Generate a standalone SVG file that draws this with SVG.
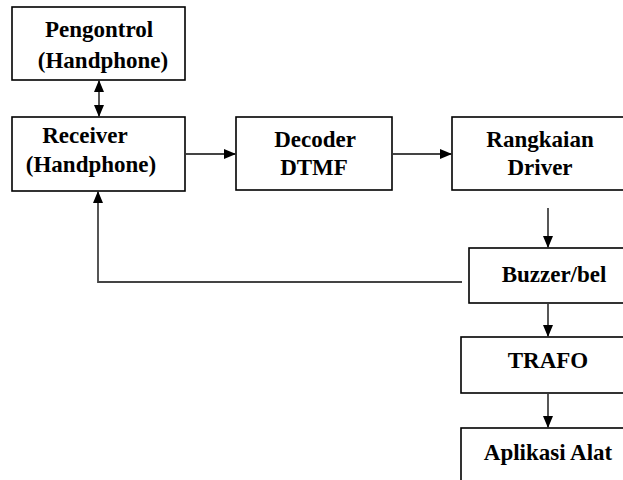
<svg xmlns="http://www.w3.org/2000/svg" width="623" height="480" viewBox="0 0 623 480">
<style>
.box{fill:#fff;stroke:#000;stroke-width:1.6}
.t{font-family:'Liberation Serif','DejaVu Serif',serif;font-weight:700;font-size:23px;fill:#000;text-anchor:middle}
.c{fill:none;stroke:#444;stroke-width:1.8}
</style>
<defs>
<marker id="ah" markerUnits="userSpaceOnUse" markerWidth="12" markerHeight="10" refX="11" refY="5" orient="auto-start-reverse" viewBox="0 0 12 10">
<path d="M0,0 L12,5 L0,10 Z" fill="#000"/>
</marker>
</defs>
<rect width="623" height="480" fill="#fff"/>
<g id="connectors">
<line class="c" x1="99" y1="81" x2="99" y2="116" marker-start="url(#ah)" marker-end="url(#ah)"/>
<line class="c" x1="186" y1="154" x2="235" y2="154" stroke="#777" marker-end="url(#ah)"/>
<line class="c" x1="393" y1="154" x2="451" y2="154" stroke="#777" marker-end="url(#ah)"/>
<line class="c" x1="548" y1="208" x2="548" y2="247" marker-end="url(#ah)"/>
<line class="c" x1="548" y1="304" x2="548" y2="336" marker-end="url(#ah)"/>
<line class="c" x1="548" y1="394" x2="548" y2="427" marker-end="url(#ah)"/>
<polyline class="c" points="462,282 98,282 98,192" marker-end="url(#ah)"/>
</g>
<g id="pengontrol">
<rect class="box" x="12" y="7" width="173" height="73"/>
<text class="t" x="99" y="37">Pengontrol</text>
<text class="t" x="103" y="68">(Handphone)</text>
</g>
<g id="receiver">
<rect class="box" x="12" y="117" width="173" height="74"/>
<text class="t" x="85" y="143">Receiver</text>
<text class="t" x="91" y="172">(Handphone)</text>
</g>
<g id="decoder">
<rect class="box" x="236" y="117" width="156" height="73"/>
<text class="t" x="315" y="147">Decoder</text>
<text class="t" x="314" y="175">DTMF</text>
</g>
<g id="driver">
<rect class="box" x="452" y="117" width="180" height="73"/>
<text class="t" x="540" y="147">Rangkaian</text>
<text class="t" x="540" y="175">Driver</text>
</g>
<g id="buzzer">
<rect class="box" x="469" y="248" width="170" height="55"/>
<text class="t" x="554" y="282">Buzzer/bel</text>
</g>
<g id="trafo">
<rect class="box" x="461" y="337" width="175" height="56"/>
<text class="t" x="548" y="368">TRAFO</text>
</g>
<g id="aplikasi">
<rect class="box" x="461" y="428" width="175" height="60"/>
<text class="t" x="548" y="460">Aplikasi Alat</text>
</g>
</svg>
